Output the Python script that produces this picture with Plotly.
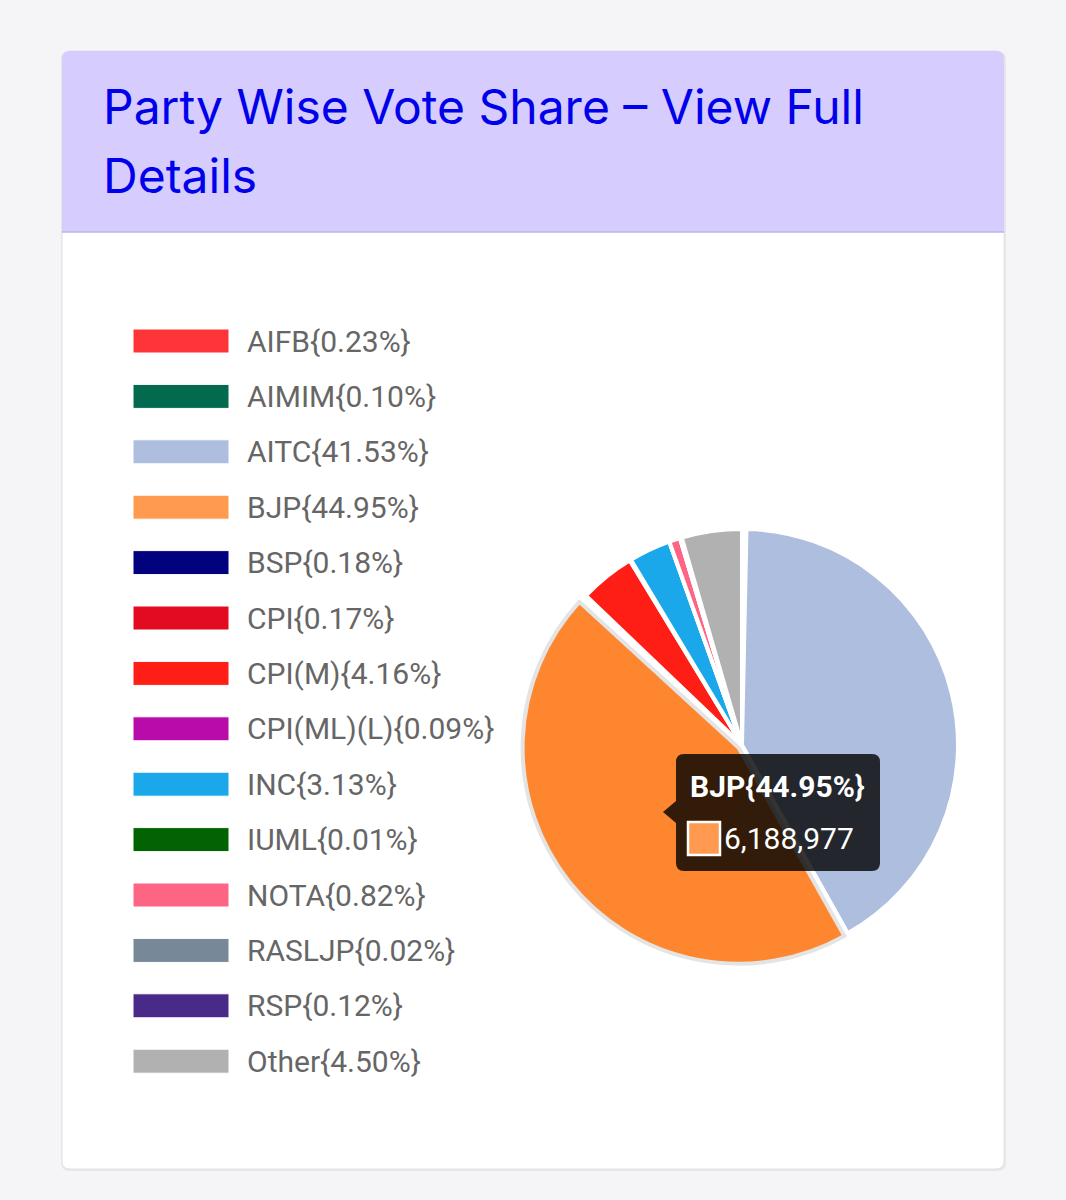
import plotly.graph_objects as go

# ---------------- data ----------------
parties = ["AIFB", "AIMIM", "AITC", "BJP", "BSP", "CPI", "CPI(M)", "CPI(ML)(L)",
           "INC", "IUML", "NOTA", "RASLJP", "RSP", "Other"]
shares = [0.23, 0.10, 41.53, 44.95, 0.18, 0.17, 4.16, 0.09,
          3.13, 0.01, 0.82, 0.02, 0.12, 4.50]
colors = ["#ff3438", "#046a4f", "#adbedf", "#ff9a50", "#02027f", "#e30b21", "#fe1e16",
          "#b80ba9", "#1aa8ea", "#016301", "#fe6484", "#778899", "#4a2a88", "#b1b1b1"]
highlighted = "BJP"
highlight_votes = 6188977
highlight_color = "#fe862f"
title_lines = ["Party Wise Vote Share – View Full", "Details"]

# ---------------- helpers ----------------
W, H = 1066, 1200


def fx(px):
    return px / W


def fy(py):
    return 1 - py / H


def P(x, y):
    return f"{fx(x):.5f},{fy(y):.5f}"


def rrect(x0, y0, x1, y1, r, top=True, bottom=True):
    rt = r if top else 0
    rb = r if bottom else 0
    s = f"M {P(x0 + rt, y0)} L {P(x1 - rt, y0)} Q {P(x1, y0)} {P(x1, y0 + rt)} "
    s += f"L {P(x1, y1 - rb)} Q {P(x1, y1)} {P(x1 - rb, y1)} "
    s += f"L {P(x0 + rb, y1)} Q {P(x0, y1)} {P(x0, y1 - rb)} "
    s += f"L {P(x0, y0 + rt)} Q {P(x0, y0)} {P(x0 + rt, y0)} Z"
    return s


shapes = []
annotations = []

# card shadow + card
shapes.append(dict(type="path", path=rrect(61, 51, 1006, 1171, 9), layer="below",
                   fillcolor="rgba(0,0,0,0.06)", line=dict(width=0), xref="paper", yref="paper"))
shapes.append(dict(type="path", path=rrect(62, 51, 1004, 1169, 8), layer="below",
                   fillcolor="#ffffff", line=dict(color="#e3e3e8", width=1),
                   xref="paper", yref="paper"))
# header
shapes.append(dict(type="path", path=rrect(62, 51, 1004, 232, 8, top=True, bottom=False),
                   layer="below", fillcolor="#d7ccfe", line=dict(width=0),
                   xref="paper", yref="paper"))
shapes.append(dict(type="line", x0=fx(62), x1=fx(1004), y0=fy(232), y1=fy(232),
                   layer="below", line=dict(color="#bdb5e3", width=1.5),
                   xref="paper", yref="paper"))

# title
for i, line in enumerate(title_lines):
    annotations.append(dict(text=line, x=fx(101), y=fy(106 + i * 69), xref="paper", yref="paper",
                            xanchor="left", yanchor="middle", showarrow=False,
                            font=dict(family="Inter", size=48, color="#0000ea")))

# legend (custom, Chart.js style)
row0, row_step = 341, 55.4
for i, (name, pct, col) in enumerate(zip(parties, shares, colors)):
    yc = row0 + i * row_step
    shapes.append(dict(type="rect", x0=fx(133), x1=fx(229), y0=fy(yc - 12), y1=fy(yc + 12),
                       fillcolor=col, line=dict(color="#ffffff", width=1), layer="below",
                       xref="paper", yref="paper"))
    annotations.append(dict(text=f"{name}{{{pct:.2f}%}}", x=fx(245), y=fy(yc),
                            xref="paper", yref="paper", xanchor="left", yanchor="middle",
                            showarrow=False,
                            font=dict(family="Roboto", size=30, color="#666666")))

# pie
cx, cy, r, pull = 742, 745, 216, 0.02
half = r * (1 + pull)
pie_colors = [highlight_color if p == highlighted else c for p, c in zip(parties, colors)]
line_colors = ["#e4e4e4" if p == highlighted else "#ffffff" for p in parties]
pulls = [pull if p == highlighted else 0 for p in parties]

fig = go.Figure(go.Pie(
    labels=parties, values=shares, sort=False, direction="clockwise", rotation=0,
    marker=dict(colors=pie_colors, line=dict(color=line_colors, width=4)),
    pull=pulls, textinfo="none", hoverinfo="skip", showlegend=False,
    domain=dict(x=[fx(cx - half), fx(cx + half)], y=[fy(cy + half), fy(cy - half)]),
))

# tooltip
hi = parties.index(highlighted)
tx0, ty0, tx1, ty1, tr = 676, 754, 880, 871, 8
ay, ah, atip = 812, 11, 663
tip = (f"M {P(tx0 + tr, ty0)} L {P(tx1 - tr, ty0)} Q {P(tx1, ty0)} {P(tx1, ty0 + tr)} "
       f"L {P(tx1, ty1 - tr)} Q {P(tx1, ty1)} {P(tx1 - tr, ty1)} "
       f"L {P(tx0 + tr, ty1)} Q {P(tx0, ty1)} {P(tx0, ty1 - tr)} "
       f"L {P(tx0, ay + ah)} L {P(atip, ay)} L {P(tx0, ay - ah)} "
       f"L {P(tx0, ty0 + tr)} Q {P(tx0, ty0)} {P(tx0 + tr, ty0)} Z")
shapes.append(dict(type="path", path=tip, layer="above", fillcolor="rgba(0,0,0,0.8)",
                   line=dict(width=0), xref="paper", yref="paper"))
shapes.append(dict(type="rect", x0=fx(688), x1=fx(720), y0=fy(855), y1=fy(822), layer="above",
                   fillcolor=colors[hi], line=dict(color="#ffffff", width=2.5),
                   xref="paper", yref="paper"))
annotations.append(dict(text=f"<b>{highlighted}{{{shares[hi]:.2f}%}}</b>", x=fx(688), y=fy(786),
                        xref="paper", yref="paper", xanchor="left", yanchor="middle",
                        showarrow=False, font=dict(family="Roboto", size=30, color="#ffffff")))
annotations.append(dict(text=f"{highlight_votes:,}", x=fx(722), y=fy(838),
                        xref="paper", yref="paper", xanchor="left", yanchor="middle",
                        showarrow=False, font=dict(family="Roboto", size=30, color="#ffffff")))

fig.update_layout(
    width=W, height=H, margin=dict(l=0, r=0, t=0, b=0),
    paper_bgcolor="#f5f5f7", plot_bgcolor="#f5f5f7",
    shapes=shapes, annotations=annotations, showlegend=False,
)

fig.write_html(
    "out.html",
    config={"displayModeBar": False},
    post_script="document.body.style.margin='0';document.body.style.background='#f5f5f7';"
                "document.body.style.overflow='hidden';",
)
